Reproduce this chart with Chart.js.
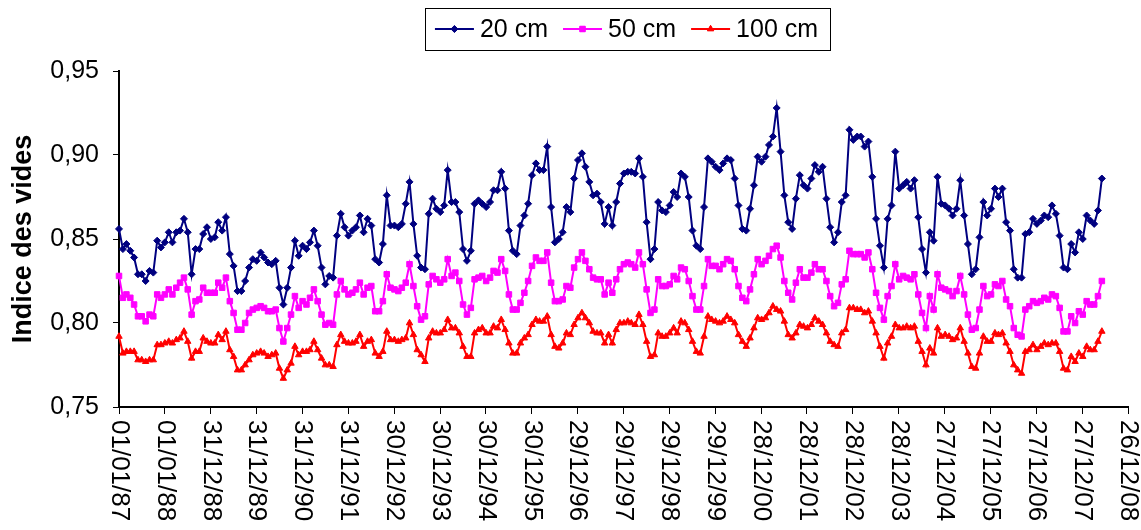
<!DOCTYPE html>
<html>
<head>
<meta charset="utf-8">
<script src="https://cdn.jsdelivr.net/npm/chart.js@4.4.0/dist/chart.umd.min.js"></script>
<style>
  html, body { margin: 0; padding: 0; background: #fff; }
</style>
</head>
<body>
<canvas id="chart" width="1141" height="530"></canvas>
<script>
// monthly readings, Jan 1987 .. Jun 2008
const startYear = 1987;

const s20 = [
  0.856, 0.844, 0.847, 0.843, 0.839, 0.829, 0.829, 0.825, 0.831, 0.830, 0.849, 0.845,
  0.848, 0.854, 0.848, 0.854, 0.855, 0.862, 0.854, 0.829, 0.844, 0.844, 0.853, 0.857,
  0.850, 0.851, 0.860, 0.855, 0.863, 0.841, 0.834, 0.819, 0.819, 0.825, 0.833, 0.838,
  0.837, 0.842, 0.839, 0.836, 0.835, 0.837, 0.821, 0.811, 0.821, 0.833, 0.849, 0.840,
  0.846, 0.844, 0.848, 0.855, 0.846, 0.833, 0.823, 0.828, 0.827, 0.852, 0.865, 0.857,
  0.852, 0.855, 0.857, 0.864, 0.854, 0.862, 0.858, 0.838, 0.836, 0.847, 0.876, 0.858,
  0.858, 0.857, 0.859, 0.871, 0.884, 0.859, 0.840, 0.833, 0.832, 0.865, 0.874, 0.868,
  0.866, 0.870, 0.891, 0.872, 0.872, 0.866, 0.844, 0.837, 0.843, 0.871, 0.873, 0.871,
  0.869, 0.872, 0.879, 0.879, 0.890, 0.880, 0.855, 0.843, 0.841, 0.858, 0.864, 0.871,
  0.888, 0.895, 0.891, 0.891, 0.905, 0.869, 0.848, 0.850, 0.854, 0.869, 0.866, 0.886,
  0.897, 0.901, 0.893, 0.884, 0.876, 0.877, 0.872, 0.859, 0.869, 0.858, 0.872, 0.883,
  0.889, 0.890, 0.890, 0.889, 0.898, 0.887, 0.860, 0.838, 0.844, 0.872, 0.867, 0.866,
  0.870, 0.878, 0.875, 0.889, 0.887, 0.875, 0.855, 0.846, 0.844, 0.869, 0.898, 0.896,
  0.893, 0.891, 0.895, 0.898, 0.897, 0.886, 0.870, 0.856, 0.855, 0.868, 0.882, 0.899,
  0.896, 0.899, 0.906, 0.911, 0.928, 0.902, 0.876, 0.860, 0.856, 0.874, 0.888, 0.882,
  0.880, 0.886, 0.894, 0.890, 0.893, 0.874, 0.857, 0.848, 0.854, 0.872, 0.876, 0.915,
  0.909, 0.911, 0.911, 0.905, 0.908, 0.887, 0.862, 0.846, 0.833, 0.862, 0.870, 0.902,
  0.880, 0.882, 0.884, 0.880, 0.885, 0.863, 0.844, 0.830, 0.854, 0.849, 0.887, 0.871,
  0.870, 0.868, 0.864, 0.868, 0.885, 0.864, 0.847, 0.829, 0.832, 0.851, 0.872, 0.864,
  0.868, 0.880, 0.875, 0.880, 0.860, 0.855, 0.832, 0.827, 0.827, 0.853, 0.854, 0.862,
  0.859, 0.861, 0.864, 0.863, 0.870, 0.865, 0.852, 0.833, 0.832, 0.847, 0.842, 0.854,
  0.850, 0.864, 0.861, 0.859, 0.867, 0.886
];

const s50 = [
  0.828, 0.815, 0.817, 0.815, 0.811, 0.804, 0.804, 0.801, 0.805, 0.804, 0.817, 0.815,
  0.817, 0.820, 0.817, 0.821, 0.824, 0.827, 0.820, 0.805, 0.813, 0.814, 0.821, 0.818,
  0.818, 0.818, 0.824, 0.821, 0.827, 0.813, 0.806, 0.796, 0.796, 0.800, 0.806, 0.808,
  0.809, 0.810, 0.809, 0.807, 0.807, 0.808, 0.797, 0.789, 0.797, 0.805, 0.816, 0.809,
  0.813, 0.811, 0.815, 0.820, 0.813, 0.805, 0.799, 0.800, 0.799, 0.817, 0.825, 0.820,
  0.817, 0.818, 0.820, 0.824, 0.817, 0.821, 0.822, 0.807, 0.807, 0.813, 0.829, 0.821,
  0.820, 0.819, 0.821, 0.824, 0.835, 0.822, 0.810, 0.802, 0.804, 0.823, 0.828, 0.826,
  0.824, 0.826, 0.838, 0.828, 0.830, 0.825, 0.811, 0.805, 0.809, 0.826, 0.827, 0.828,
  0.825, 0.827, 0.831, 0.830, 0.838, 0.831, 0.817, 0.808, 0.808, 0.812, 0.818, 0.825,
  0.834, 0.839, 0.837, 0.837, 0.842, 0.824, 0.813, 0.813, 0.814, 0.822, 0.821, 0.833,
  0.838, 0.842, 0.837, 0.832, 0.827, 0.826, 0.826, 0.817, 0.824, 0.818, 0.826, 0.832,
  0.835, 0.836, 0.835, 0.833, 0.842, 0.835, 0.820, 0.806, 0.808, 0.826, 0.822, 0.822,
  0.823, 0.828, 0.826, 0.833, 0.832, 0.825, 0.816, 0.808, 0.808, 0.822, 0.838, 0.834,
  0.834, 0.832, 0.835, 0.838, 0.837, 0.832, 0.822, 0.815, 0.813, 0.820, 0.829, 0.838,
  0.835, 0.837, 0.840, 0.844, 0.846, 0.839, 0.825, 0.818, 0.814, 0.824, 0.832, 0.827,
  0.827, 0.830, 0.835, 0.832, 0.832, 0.825, 0.816, 0.810, 0.812, 0.823, 0.826, 0.843,
  0.841, 0.841, 0.841, 0.839, 0.842, 0.832, 0.818, 0.809, 0.802, 0.816, 0.822, 0.835,
  0.826, 0.828, 0.827, 0.826, 0.829, 0.817, 0.806, 0.797, 0.816, 0.808, 0.829, 0.821,
  0.820, 0.819, 0.816, 0.819, 0.828, 0.817, 0.805, 0.796, 0.797, 0.808, 0.822, 0.816,
  0.817, 0.823, 0.822, 0.825, 0.814, 0.810, 0.797, 0.793, 0.792, 0.808, 0.810, 0.813,
  0.812, 0.813, 0.815, 0.814, 0.817, 0.816, 0.809, 0.795, 0.795, 0.804, 0.800, 0.807,
  0.805, 0.813, 0.811, 0.811, 0.816, 0.825
];

const s100 = [
  0.792, 0.782, 0.783, 0.783, 0.783, 0.778, 0.778, 0.777, 0.778, 0.778, 0.787, 0.787,
  0.788, 0.789, 0.788, 0.790, 0.791, 0.795, 0.789, 0.779, 0.783, 0.783, 0.791, 0.789,
  0.788, 0.788, 0.793, 0.790, 0.795, 0.784, 0.780, 0.772, 0.772, 0.775, 0.778, 0.781,
  0.782, 0.783, 0.782, 0.780, 0.781, 0.782, 0.773, 0.767, 0.772, 0.776, 0.786, 0.781,
  0.783, 0.783, 0.784, 0.789, 0.784, 0.779, 0.775, 0.775, 0.774, 0.787, 0.793, 0.789,
  0.788, 0.788, 0.789, 0.793, 0.786, 0.789, 0.790, 0.782, 0.780, 0.783, 0.795, 0.790,
  0.790, 0.789, 0.790, 0.791, 0.800, 0.793, 0.784, 0.781, 0.777, 0.791, 0.795, 0.794,
  0.794, 0.796, 0.802, 0.797, 0.797, 0.794, 0.786, 0.780, 0.780, 0.794, 0.796, 0.797,
  0.794, 0.794, 0.798, 0.797, 0.802, 0.796, 0.788, 0.782, 0.782, 0.788, 0.791, 0.793,
  0.799, 0.802, 0.801, 0.801, 0.804, 0.793, 0.786, 0.785, 0.788, 0.794, 0.793, 0.799,
  0.803, 0.806, 0.803, 0.800, 0.795, 0.794, 0.794, 0.788, 0.793, 0.788, 0.796, 0.800,
  0.800, 0.801, 0.800, 0.799, 0.805, 0.799, 0.789, 0.780, 0.781, 0.794, 0.792, 0.792,
  0.794, 0.797, 0.794, 0.801, 0.800, 0.796, 0.789, 0.783, 0.782, 0.792, 0.804, 0.802,
  0.801, 0.800, 0.801, 0.804, 0.802, 0.800, 0.793, 0.789, 0.786, 0.791, 0.797, 0.803,
  0.802, 0.803, 0.806, 0.810, 0.808, 0.807, 0.801, 0.793, 0.791, 0.794, 0.799, 0.798,
  0.797, 0.799, 0.803, 0.801, 0.799, 0.794, 0.789, 0.787, 0.786, 0.794, 0.796, 0.809,
  0.809, 0.808, 0.808, 0.806, 0.807, 0.801, 0.794, 0.786, 0.779, 0.788, 0.792, 0.799,
  0.797, 0.797, 0.798, 0.797, 0.798, 0.789, 0.783, 0.775, 0.785, 0.782, 0.797, 0.792,
  0.793, 0.792, 0.790, 0.791, 0.797, 0.789, 0.782, 0.774, 0.773, 0.782, 0.792, 0.789,
  0.789, 0.794, 0.793, 0.794, 0.788, 0.783, 0.775, 0.772, 0.770, 0.783, 0.784, 0.787,
  0.784, 0.786, 0.788, 0.787, 0.788, 0.788, 0.783, 0.773, 0.772, 0.780, 0.777, 0.782,
  0.780, 0.786, 0.784, 0.784, 0.789, 0.795
];

const seriesNames = ['20 cm', '50 cm', '100 cm'];
const seriesColors = ['#000080', '#FF00FF', '#FF0000'];
const seriesMarkers = ['rectRot', 'rect', 'triangle'];

// date axis: one tick every 365 days from 01/01/87
const tickLabels = [
  '01/01/87', '01/01/88', '31/12/88', '31/12/89', '31/12/90', '31/12/91',
  '30/12/92', '30/12/93', '30/12/94', '30/12/95', '29/12/96', '29/12/97',
  '29/12/98', '29/12/99', '28/12/00', '28/12/01', '28/12/02', '28/12/03',
  '27/12/04', '27/12/05', '27/12/06', '27/12/07', '26/12/08'
];
const tickStepDays = 365;
const yTicks = [0.75, 0.80, 0.85, 0.90, 0.95];

const FONT = '"Liberation Sans", Arial, sans-serif';
const DAY = 86400000;
const t0 = Date.UTC(startYear, 0, 1);

// x = days since 01/01/87 for each monthly reading
function toPoints(vals) {
  return vals.map((v, i) => ({ x: (Date.UTC(startYear, i, 1) - t0) / DAY, y: v }));
}

const markerRadius = { rectRot: 3.5, rect: 3.9, triangle: 3.7 };

const datasets = [s20, s50, s100].map((vals, k) => ({
  label: seriesNames[k],
  data: toPoints(vals),
  borderColor: seriesColors[k],
  backgroundColor: seriesColors[k],
  borderWidth: 2,
  pointStyle: seriesMarkers[k],
  pointRadius: markerRadius[seriesMarkers[k]],
  pointBorderWidth: 1,
  tension: 0,
  clip: false
}));

// x labels read top to bottom (rotated clockwise), so they are drawn here
const xLabels = {
  id: 'xLabels',
  afterDraw(chart) {
    const xs = chart.scales.x;
    const c = chart.ctx;
    c.save();
    c.font = '26px ' + FONT;
    c.fillStyle = '#000';
    c.textAlign = 'left';
    c.textBaseline = 'middle';
    xs.ticks.forEach((t, k) => {
      c.save();
      c.translate(xs.getPixelForValue(t.value), xs.top + 13);
      c.rotate(Math.PI / 2);
      c.fillText(tickLabels[k], 0, 0);
      c.restore();
    });
    c.restore();
  }
};

// boxed legend, line sample with marker in the middle
const boxedLegend = {
  id: 'boxedLegend',
  afterDraw(chart) {
    const c = chart.ctx;
    const area = chart.chartArea;
    const y = 29;
    const sample = 39;
    c.save();
    c.font = '25px ' + FONT;
    const widths = chart.data.datasets.map(d => c.measureText(d.label).width);
    const inner = widths.reduce((a, w) => a + sample + 6 + w, 0) + 15 * (widths.length - 1);
    const boxW = inner + 22;
    const left = (area.left + area.right) / 2 + 4 - boxW / 2;
    c.strokeStyle = '#000';
    c.lineWidth = 1;
    c.strokeRect(Math.round(left) + 0.5, 8.5, Math.round(boxW), 42);
    let x = left + 10;
    chart.data.datasets.forEach((d, k) => {
      c.strokeStyle = d.borderColor;
      c.lineWidth = 2;
      c.beginPath();
      c.moveTo(x, y);
      c.lineTo(x + sample, y);
      c.stroke();
      c.fillStyle = d.backgroundColor;
      c.lineWidth = 1;
      Chart.helpers.drawPoint(c, {
        pointStyle: d.pointStyle, radius: d.pointRadius, borderWidth: 1, rotation: 0
      }, x + sample / 2, y);
      c.fill();
      c.fillStyle = '#000';
      c.textBaseline = 'middle';
      c.textAlign = 'left';
      c.fillText(d.label, x + sample + 6, y + 1);
      x += sample + 6 + widths[k] + 15;
    });
    c.restore();
  }
};

new Chart(document.getElementById('chart'), {
  type: 'line',
  data: { datasets },
  plugins: [xLabels, boxedLegend],
  options: {
    responsive: false,
    devicePixelRatio: 1,
    animation: false,
    layout: { padding: { top: 71, right: 13, bottom: 0, left: 0 } },
    plugins: {
      legend: { display: false },
      tooltip: { enabled: false }
    },
    scales: {
      x: {
        type: 'linear',
        min: 0,
        max: (tickLabels.length - 1) * tickStepDays,
        afterBuildTicks: s => { s.ticks = tickLabels.map((_, k) => ({ value: k * tickStepDays })); },
        afterFit: s => { s.height = 123; },
        ticks: { display: false },
        grid: { drawOnChartArea: false, drawTicks: true, tickLength: 7, color: '#000', lineWidth: 1 },
        border: { display: true, color: '#000', width: 2 }
      },
      y: {
        min: 0.75,
        max: 0.95,
        afterBuildTicks: s => { s.ticks = yTicks.map(v => ({ value: v })); },
        afterFit: s => { s.width = 119; },
        ticks: {
          color: '#000',
          padding: 14,
          font: { family: FONT, size: 25 },
          callback: v => v.toFixed(2).replace('.', ',')
        },
        grid: { drawOnChartArea: false, drawTicks: true, tickLength: 6, color: '#000', lineWidth: 1 },
        border: { display: true, color: '#000', width: 2 },
        title: {
          display: true,
          text: 'Indice des vides',
          color: '#000',
          font: { family: FONT, size: 27, weight: 'bold' },
          padding: { top: 7, bottom: 0 }
        }
      }
    }
  }
});
</script>
</body>
</html>
